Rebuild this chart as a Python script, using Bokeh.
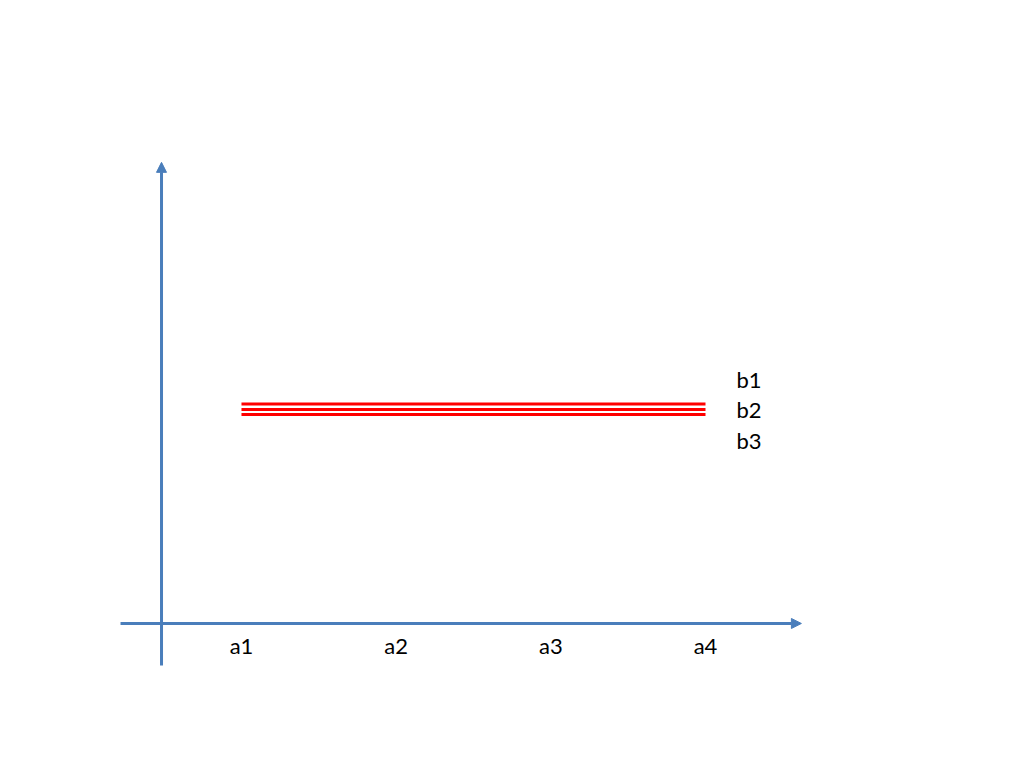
from bokeh.plotting import figure
from bokeh.models import Arrow, NormalHead
from bokeh.core.properties import value
from bokeh.embed import file_html
from bokeh.resources import INLINE

# ---- data ----
categories = ["a1", "a2", "a3", "a4"]
cat_x = [1, 2, 3, 4]
series_names = ["b1", "b2", "b3"]
series_values = [4.76, 4.64, 4.53]   # each series is constant across a1..a4

AXIS_BLUE = "#4a7ebb"
RED = "#ff0000"
FONT = "Lato"

p = figure(width=1008, height=752, output_backend="svg", toolbar_location=None,
           x_range=(-0.558, 5.959), y_range=(-2.798, 13.51),
           min_border=0, outline_line_color=None)
p.axis.visible = False
p.grid.visible = False
p.background_fill_color = "white"
p.border_fill_color = "white"

# axes drawn as arrows
p.add_layout(Arrow(end=NormalHead(size=10, fill_color=AXIS_BLUE, line_color=AXIS_BLUE),
                   x_start=0.218, y_start=0, x_end=4.62, y_end=0,
                   line_color=AXIS_BLUE, line_width=3))
p.add_layout(Arrow(end=NormalHead(size=10, fill_color=AXIS_BLUE, line_color=AXIS_BLUE),
                   x_start=0.483, y_start=-0.91, x_end=0.483, y_end=10.0,
                   line_color=AXIS_BLUE, line_width=3))

# series lines
for name, v in zip(series_names, series_values):
    p.line(cat_x, [v] * len(cat_x), line_color=RED, line_width=3)

# category labels
p.text(x=cat_x, y=[0] * len(cat_x), text=categories, text_align="center",
       text_baseline="middle", y_offset=22, text_font=value(FONT),
       text_font_size="22px", text_color="black")

# series labels
mid = series_values[1]
p.text(x=[cat_x[-1]] * 3, y=[mid] * 3, text=series_names, text_align="left",
       text_baseline="middle", x_offset=[31, 31, 31], y_offset=[-30, 0, 31],
       text_font=value(FONT), text_font_size="22px", text_color="black")

open("out.html", "w").write(file_html(p, INLINE))
